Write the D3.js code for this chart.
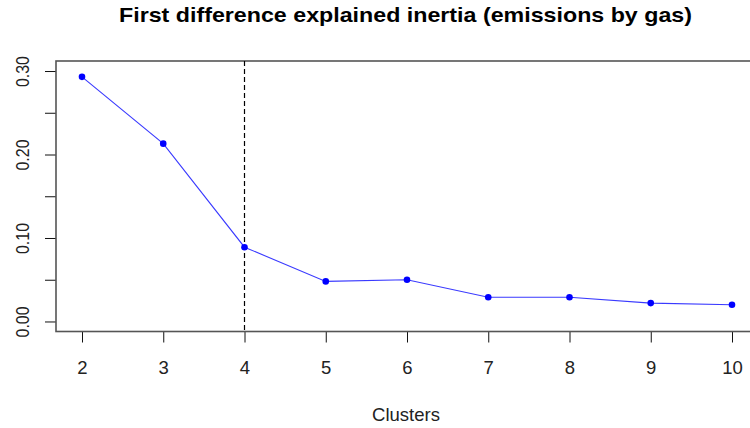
<!DOCTYPE html>
<html>
<head>
<meta charset="utf-8">
<script src="https://cdn.jsdelivr.net/npm/d3@7"></script>
<style>
  html, body { margin: 0; padding: 0; background: #fff; }
  svg { display: block; font-family: Arial, "Liberation Sans", sans-serif; }
</style>
</head>
<body>
<svg id="chart" width="750" height="428"></svg>
<script>
// Number of clusters and the first difference of explained inertia
const clusters = [2, 3, 4, 5, 6, 7, 8, 9, 10];
const inertiaDiff = [0.293, 0.213, 0.089, 0.048, 0.050, 0.029, 0.029, 0.022, 0.020];
const chosenK = 4;
const yTickValues = [0, 0.05, 0.10, 0.15, 0.20, 0.25, 0.30];
const yTickLabels = ["0.00", "", "0.10", "", "0.20", "", "0.30"];
const titleText = "First difference explained inertia (emissions by gas)";
const xLabel = "Clusters";

const svg = d3.select("#chart");
const plotLeft = 56, plotRight = 758, plotTop = 61, plotBottom = 331.5;
const fontStack = "Arial, 'Liberation Sans', sans-serif";

// R-style 4% padding around [2,10] and [0,0.3]
const x = d3.scaleLinear().domain([1.68, 10.32]).range([plotLeft, plotRight]);
const y = d3.scaleLinear().domain([-0.012, 0.312]).range([plotBottom, plotTop]);

// Title
svg.append("text")
  .attr("x", 405.5).attr("y", 22)
  .attr("text-anchor", "middle")
  .attr("font-size", 21).attr("font-weight", "bold").attr("fill", "#000")
  .attr("textLength", 573).attr("lengthAdjust", "spacingAndGlyphs")
  .text(titleText);

// X axis
const xAxis = svg.append("g").attr("transform", `translate(0,${plotBottom})`)
  .call(d3.axisBottom(x).tickValues(clusters).tickSize(11).tickFormat(d3.format("d")));
xAxis.select(".domain").remove();
xAxis.selectAll(".tick line").attr("stroke", "#111");
xAxis.selectAll(".tick text")
  .attr("font-size", 18.5).attr("fill", "#222").attr("font-family", fontStack)
  .attr("dy", 0).attr("y", 374 - plotBottom);

// Y axis
const yAxis = svg.append("g").attr("transform", `translate(${plotLeft},0)`)
  .call(d3.axisLeft(y).tickValues(yTickValues).tickSize(11).tickFormat((d, i) => yTickLabels[i]));
yAxis.select(".domain").remove();
yAxis.selectAll(".tick line").attr("stroke", "#111");
yAxis.selectAll(".tick text")
  .attr("font-size", 19).attr("fill", "#222").attr("font-family", fontStack)
  .attr("text-anchor", "middle")
  .attr("dy", 0).attr("x", 0)
  .attr("transform", `translate(${29 - plotLeft},0) rotate(-90)`)
  .each(function() { if (this.textContent) d3.select(this).attr("textLength", 31).attr("lengthAdjust", "spacingAndGlyphs"); });

// Plot box
svg.append("rect")
  .attr("x", plotLeft).attr("y", plotTop)
  .attr("width", plotRight - plotLeft).attr("height", plotBottom - plotTop)
  .attr("fill", "none").attr("stroke", "#555").attr("stroke-width", 1.6);

// Vertical dashed marker at the chosen number of clusters
svg.append("line")
  .attr("x1", x(chosenK)).attr("x2", x(chosenK))
  .attr("y1", plotTop).attr("y2", plotBottom)
  .attr("stroke", "#000").attr("stroke-width", 1.2)
  .attr("stroke-dasharray", "5,3");

// Line and points
const pts = clusters.map((c, i) => [c, inertiaDiff[i]]);
svg.append("path")
  .datum(pts)
  .attr("fill", "none").attr("stroke", "#3a3aff").attr("stroke-width", 1.1)
  .attr("d", d3.line().x(d => x(d[0])).y(d => y(d[1])));

svg.append("g").selectAll("circle").data(pts).join("circle")
  .attr("cx", d => x(d[0])).attr("cy", d => y(d[1]))
  .attr("r", 3.3).attr("fill", "#0000ff");

// X axis title
svg.append("text")
  .attr("x", 406).attr("y", 421)
  .attr("text-anchor", "middle")
  .attr("font-size", 18.5).attr("fill", "#222").attr("font-family", fontStack)
  .text(xLabel);
</script>
</body>
</html>
